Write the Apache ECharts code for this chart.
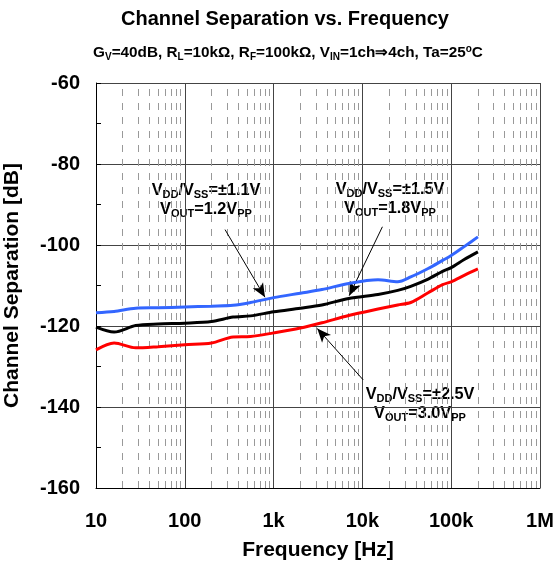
<!DOCTYPE html>
<html><head><meta charset="utf-8">
<script src="https://cdn.jsdelivr.net/npm/echarts@6/dist/echarts.min.js"></script>
<style>html,body{margin:0;padding:0;background:#fff}#c{width:554px;height:563px}</style>
</head><body><div id="c"></div>
<script>
var freqs = [10, 16, 28, 50, 100, 200, 350, 550, 1000, 2000, 3500, 7000, 15000, 25000, 35000, 55000, 80000, 100000, 140000, 200000];
var blueVals  = [-116.7, -116.4, -115.6, -115.5, -115.3, -115.1, -114.9, -114.2, -113.0, -111.9, -111.0, -109.5, -108.6, -109.1, -107.9, -105.8, -103.8, -102.6, -100.4, -98.0];
var blackVals = [-120.3, -121.5, -119.9, -119.5, -119.3, -118.9, -117.8, -117.5, -116.5, -115.6, -114.8, -113.2, -112.2, -111.2, -110.2, -108.4, -106.5, -105.6, -103.6, -101.7];
var redVals   = [-125.9, -124.2, -125.4, -125.1, -124.6, -124.2, -122.7, -122.6, -121.7, -120.5, -119.2, -117.4, -115.8, -114.8, -114.2, -111.8, -109.8, -109.1, -107.5, -105.9];
var xTickLabels = {10:'10', 100:'100', 1000:'1k', 10000:'10k', 100000:'100k', 1000000:'1M'};
var minorFreqs = [];
[10,100,1000,10000,100000].forEach(function(d){ for (var k=2;k<=9;k++) minorFreqs.push(d*k); });

function pairs(v){ return freqs.map(function(f,i){ return [f, v[i]]; }); }

var chart = echarts.init(document.getElementById('c'));
var F = '"Liberation Sans", Arial, sans-serif';
var rich = {
  b: {fontFamily:F, fontWeight:700, fontSize:16.3, lineHeight:19, verticalAlign:'middle', color:'#000'},
  s: {fontFamily:F, fontWeight:700, fontSize:11, lineHeight:19, verticalAlign:'bottom', color:'#000'}
};
function box(x, y, w, h, l1, l2){
  return {type:'group', z:100, children:[
    {type:'rect', shape:{x:x, y:y, width:w, height:h}, style:{fill:'#fff'}},
    {type:'text', x:x+w/2, y:y+h/2, style:{text:l1+'\n'+l2, rich:rich, align:'center', verticalAlign:'middle', fill:'#000'}}
  ]};
}
chart.setOption({
  animation:false,
  backgroundColor:'#fff',
  grid:{left:96, right:14, top:83, bottom:75, outerBoundsMode:'none', containLabel:false},
  xAxis:{type:'log', logBase:10, min:10, max:1000000,
    axisLine:{show:true, lineStyle:{color:'#000', width:1}},
    axisTick:{show:false},
    axisLabel:{formatter:function(v){return xTickLabels[Math.round(v)]||'';}, fontFamily:F, fontWeight:700, fontSize:20, color:'#000', margin:23},
    splitLine:{show:true, lineStyle:{color:'#444', width:1}},
    name:'Frequency [Hz]', nameLocation:'middle', nameGap:52,
    nameTextStyle:{fontFamily:F, fontWeight:700, fontSize:21, color:'#000'}
  },
  yAxis:{type:'value', min:-160, max:-60, interval:20,
    axisLine:{show:true, lineStyle:{color:'#000', width:1}},
    axisTick:{show:true, inside:true, length:5, lineStyle:{color:'#000'}},
    minorTick:{show:true, splitNumber:2, length:5, lineStyle:{color:'#000'}},
    axisLabel:{fontFamily:F, fontWeight:700, fontSize:20, color:'#000', margin:16},
    splitLine:{show:true, lineStyle:{color:'#444', width:1}},
    name:'Channel Separation [dB]', nameLocation:'middle', nameGap:73, nameRotate:90,
    nameTextStyle:{fontFamily:F, fontWeight:700, fontSize:21, color:'#000'}
  },
  series:[
    {type:'line', data:[], silent:true,
      markLine:{silent:true, symbol:['none','none'], label:{show:false},
        lineStyle:{color:'#999', type:[7,7], width:1},
        data: minorFreqs.map(function(f){ return {xAxis:f}; })}},
    {type:'line', name:'2.5V', data:pairs(redVals), smooth:0.3, showSymbol:false, lineStyle:{color:'#ff0000', width:3}, z:5,
      markLine:{silent:true, symbol:['none','arrow'], symbolSize:[9,14], label:{show:false},
        lineStyle:{color:'#000', width:1, type:'solid'},
        data:[[{coord:[10200,-133.3]},{coord:[3100,-120.6]}]]}},
    {type:'line', name:'1.5V', data:pairs(blackVals), smooth:0.3, showSymbol:false, lineStyle:{color:'#000', width:3}, z:6,
      markLine:{silent:true, symbol:['none','arrow'], symbolSize:[9,14], label:{show:false},
        lineStyle:{color:'#000', width:1, type:'solid'},
        data:[[{coord:[16800,-95.5]},{coord:[7100,-112.5]}]]}},
    {type:'line', name:'1.1V', data:pairs(blueVals), smooth:0.3, showSymbol:false, lineStyle:{color:'#3366ff', width:3}, z:7,
      markLine:{silent:true, symbol:['none','arrow'], symbolSize:[9,14], label:{show:false},
        lineStyle:{color:'#000', width:1, type:'solid'},
        data:[[{coord:[284,-96.2]},{coord:[800,-112.9]}]]}}
  ],
  graphic:[
    {type:'text', x:285, y:19, style:{text:'Channel Separation vs. Frequency', font:'bold 20px '+F, fill:'#000', align:'center', verticalAlign:'middle'}},
    {type:'text', x:288, y:53, style:{
      text:'{a|G}{s|V}{a|=40dB, R}{s|L}{a|=10kΩ, R}{s|F}{a|=100kΩ, V}{s|IN}{a|=1ch⇒4ch, Ta=25}{u|o}{a|C}',
      rich:{a:{fontFamily:F, fontWeight:700, fontSize:15.3, lineHeight:18, verticalAlign:'middle'},
            s:{fontFamily:F, fontWeight:700, fontSize:10, lineHeight:18, verticalAlign:'bottom'},
            u:{fontFamily:F, fontWeight:700, fontSize:10, lineHeight:18, verticalAlign:'top'}},
      align:'center', verticalAlign:'middle', fill:'#000'}},
    box(141, 173, 130, 54, '{b|V}{s|DD}{b|/V}{s|SS}{b|=±1.1V}', '{b|V}{s|OUT}{b|=1.2V}{s|PP}'),
    box(331, 173, 118, 52, '{b|V}{s|DD}{b|/V}{s|SS}{b|=±1.5V}', '{b|V}{s|OUT}{b|=1.8V}{s|PP}'),
    box(361, 377, 118, 54, '{b|V}{s|DD}{b|/V}{s|SS}{b|=±2.5V}', '{b|V}{s|OUT}{b|=3.0V}{s|PP}')
  ]
});
</script></body></html>
